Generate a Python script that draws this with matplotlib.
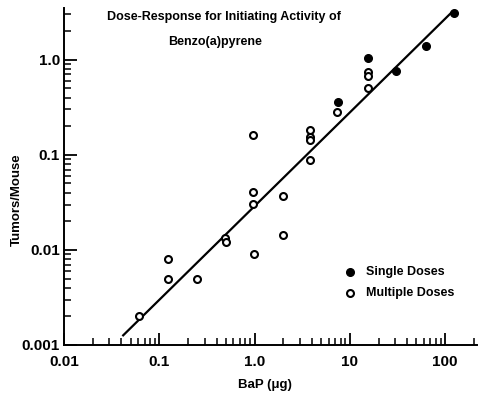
import matplotlib
matplotlib.use("Agg")
import matplotlib.pyplot as plt
from matplotlib.ticker import LogLocator, FixedLocator, NullFormatter

# Data
single_x = [7.6, 15.4, 30.7, 62.4, 123]
single_y = [0.36, 1.04, 0.77, 1.38, 3.1]

multi_x = [0.061, 0.122, 0.124, 0.25, 0.49, 0.50, 0.97, 0.97, 0.97, 0.98,
           1.97, 1.98, 3.84, 3.84, 3.84, 3.86, 7.4, 15.4, 15.4, 15.4]
multi_y = [0.002, 0.008, 0.005, 0.005, 0.0135, 0.012, 0.163, 0.041, 0.0305, 0.0091,
           0.037, 0.0143, 0.183, 0.153, 0.144, 0.089, 0.28, 0.75, 0.67, 0.51]

fit_x = [0.041, 117]
fit_y = [0.00124, 3.15]

x_ticks = [0.01, 0.1, 1.0, 10, 100]
x_ticklabels = ["0.01", "0.1", "1.0", "10", "100"]
y_ticks = [0.001, 0.01, 0.1, 1.0]
y_ticklabels = ["0.001", "0.01", "0.1", "1.0"]

title_lines = ["Dose-Response for Initiating Activity of", "Benzo(a)pyrene"]
legend_labels = ["Single Doses", "Multiple Doses"]

plt.rcParams['font.family'] = ['Liberation Sans', 'DejaVu Sans']

fig = plt.figure(figsize=(4.89, 3.96), dpi=100)
ax = fig.add_axes([64/489, 1 - 345/396, (477 - 64)/489, (345 - 8)/396])

ax.set_xscale('log')
ax.set_yscale('log')
ax.set_xlim(0.01, 216)
ax.set_ylim(0.001, 3.5)

ax.plot(fit_x, fit_y, color='black', lw=1.6, solid_capstyle='butt', zorder=2)
ax.plot(multi_x, multi_y, linestyle='none', marker='o', ms=5.0, mfc='white',
        mec='black', mew=1.5, zorder=3)
ax.plot(single_x, single_y, linestyle='none', marker='o', ms=5.5, mfc='black',
        mec='black', mew=1.0, zorder=4)

for s in ['top', 'right']:
    ax.spines[s].set_visible(False)
for s in ['left', 'bottom']:
    ax.spines[s].set_linewidth(1.4)

ax.xaxis.set_major_locator(FixedLocator(x_ticks))
ax.set_xticklabels(x_ticklabels)
ax.yaxis.set_major_locator(FixedLocator(y_ticks))
ax.set_yticklabels(y_ticklabels)
ax.xaxis.set_minor_locator(LogLocator(base=10, subs=range(2, 10), numticks=20))
ax.yaxis.set_minor_locator(LogLocator(base=10, subs=range(2, 10), numticks=20))
ax.xaxis.set_minor_formatter(NullFormatter())
ax.yaxis.set_minor_formatter(NullFormatter())

ax.tick_params(which='major', direction='in', length=9, width=1.3, labelsize=11)
ax.tick_params(axis='x', which='major', pad=7)
ax.tick_params(axis='y', which='major', pad=3)
ax.tick_params(which='minor', direction='in', length=5, width=1.1)
for lab in ax.get_xticklabels() + ax.get_yticklabels():
    lab.set_fontweight('bold')

ax.set_xlabel("BaP (μg)", fontsize=9.5, fontweight='bold')
ax.xaxis.set_label_coords(0.487, -0.1)
ax.set_ylabel("Tumors/Mouse", fontsize=9.5, fontweight='bold')
ax.yaxis.set_label_coords(-0.099, 0.43)

ax.text(0.387, 0.973, title_lines[0], transform=ax.transAxes, ha='center', va='center',
        fontsize=9, fontweight='bold')
ax.text(0.366, 0.899, title_lines[1], transform=ax.transAxes, ha='center', va='center',
        fontsize=9, fontweight='bold')

# Legend drawn as in the reference
leg_x = 0.692
ax.plot([leg_x], [0.217], transform=ax.transAxes, marker='o', ms=5.5, mfc='black',
        mec='black', linestyle='none', clip_on=False)
ax.plot([leg_x], [0.154], transform=ax.transAxes, marker='o', ms=5.0, mfc='white',
        mec='black', mew=1.5, linestyle='none', clip_on=False)
ax.text(0.731, 0.217, legend_labels[0], transform=ax.transAxes, va='center',
        ha='left', fontsize=9, fontweight='bold')
ax.text(0.731, 0.154, legend_labels[1], transform=ax.transAxes, va='center',
        ha='left', fontsize=9, fontweight='bold')

fig.savefig("out.png", dpi=100)
